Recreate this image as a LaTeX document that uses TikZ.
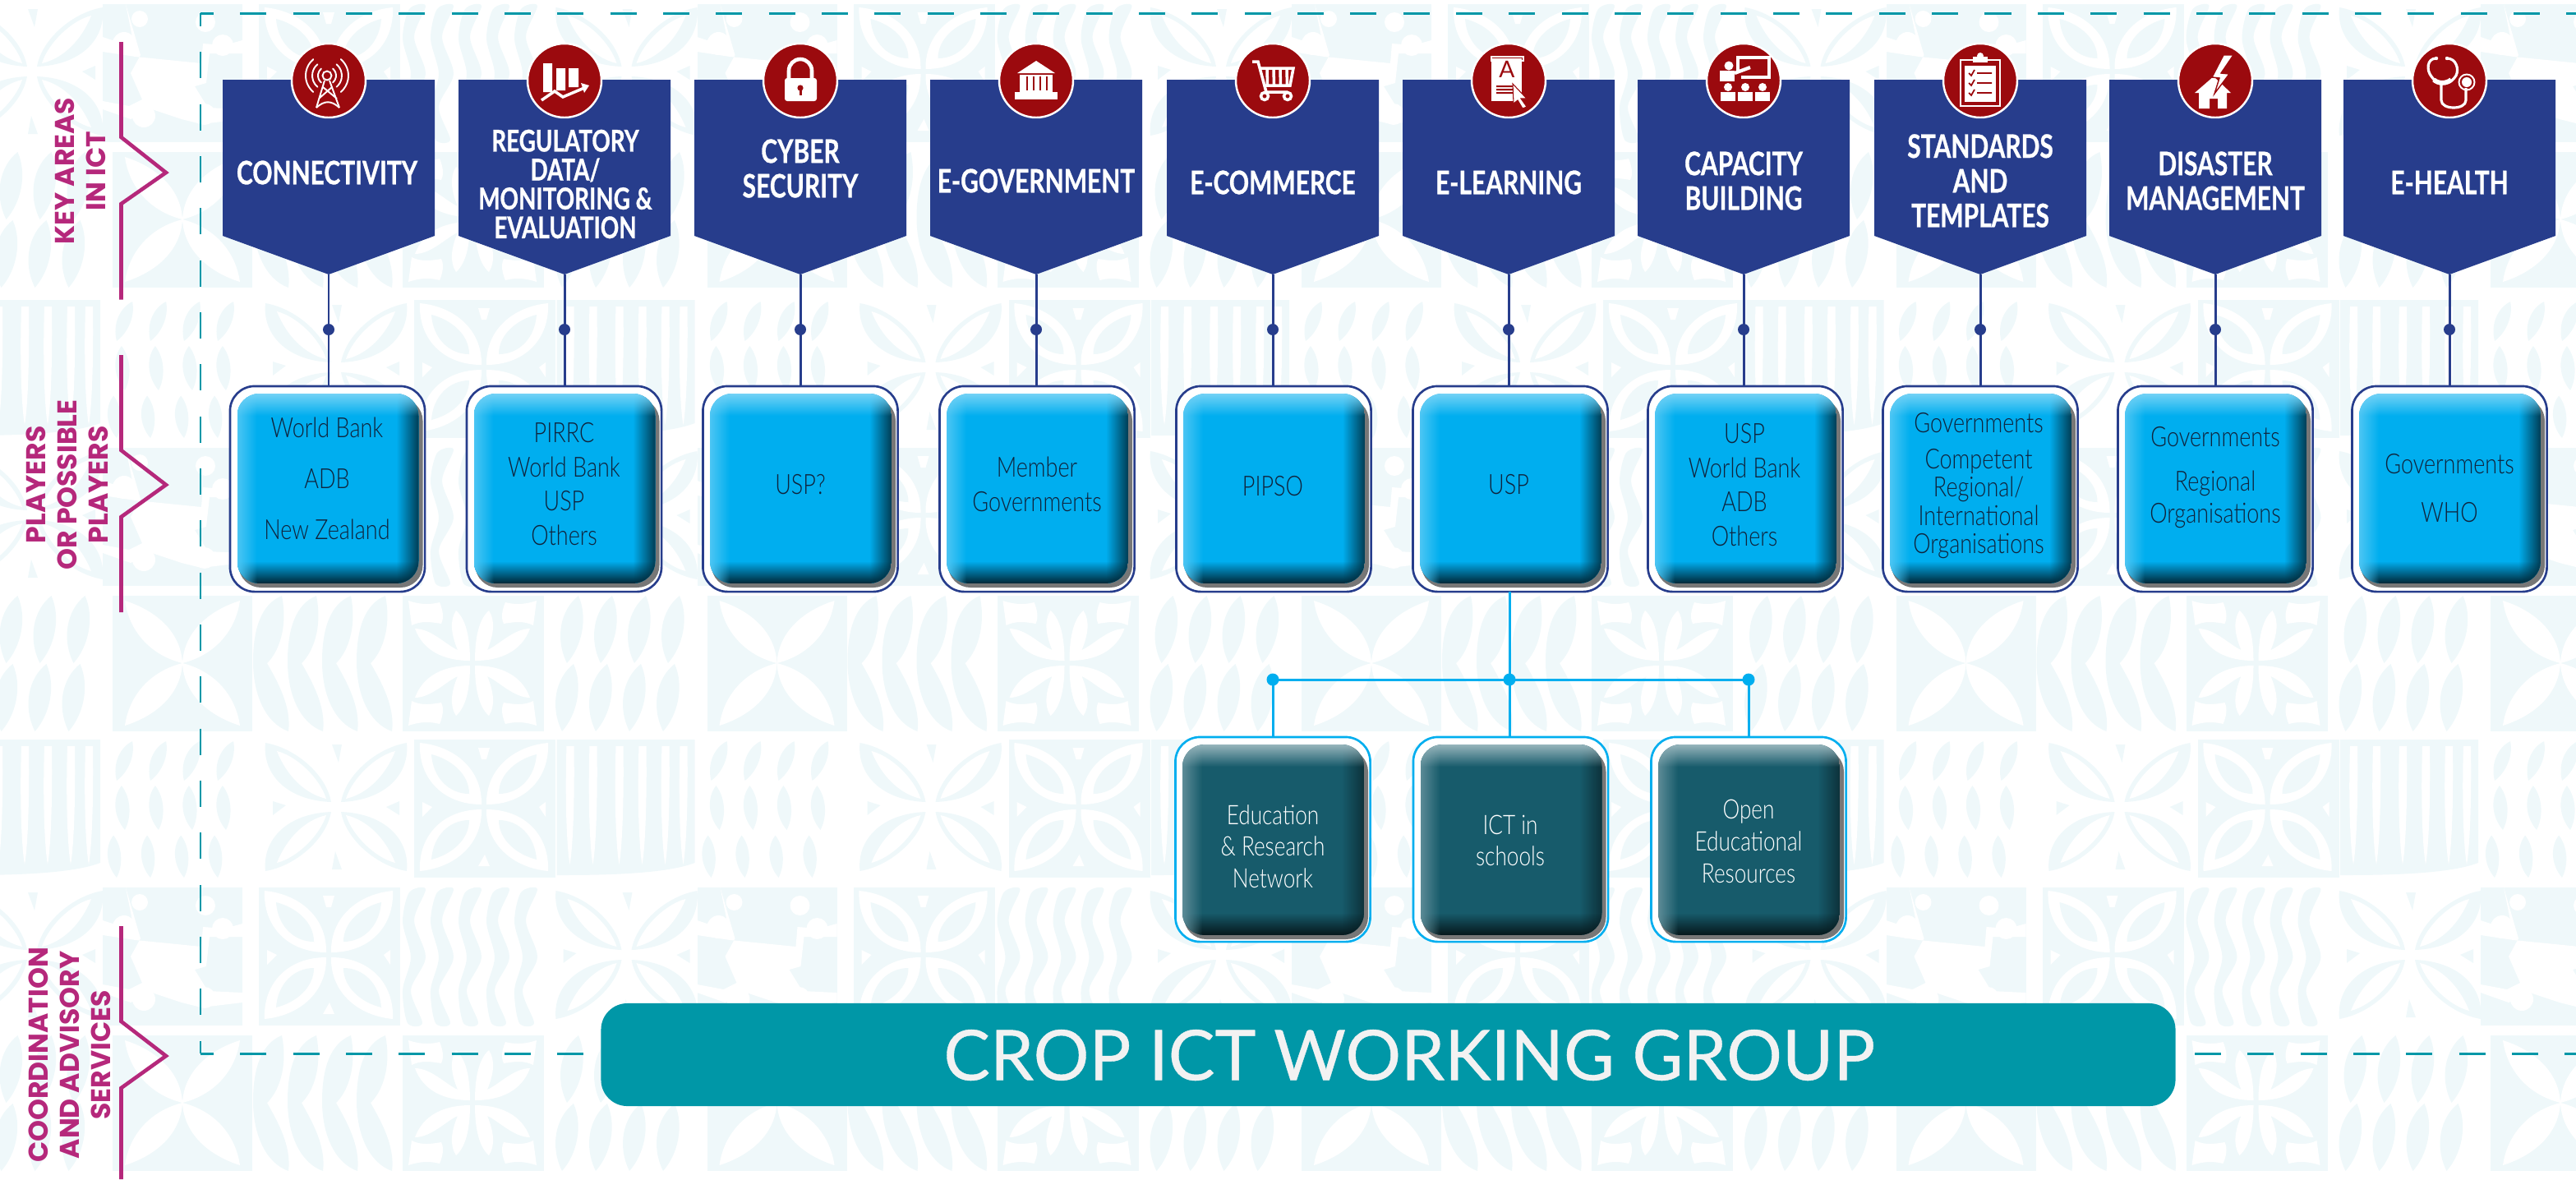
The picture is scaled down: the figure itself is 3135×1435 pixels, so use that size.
\documentclass[tikz,border=0pt]{standalone}
\usepackage{fontspec}
\usetikzlibrary{fadings}
\setmainfont{Lato}
\newfontfamily\hdrfont[FakeStretch=0.76,BoldFeatures={FakeBold=0.7}]{Lato}
\newfontfamily\bodyfont[FakeStretch=0.8]{Lato Light}
\newfontfamily\sidefont{Poppins}
\newfontfamily\barfont[FakeBold=0.5]{Lato}
\definecolor{navy}{HTML}{273D8C}
\definecolor{iconred}{HTML}{9B0A0E}
\definecolor{cyanfill}{HTML}{00AEEF}
\definecolor{tealfill}{HTML}{175B6B}
\definecolor{barteal}{HTML}{0097A7}
\definecolor{sidemag}{HTML}{B5287B}
\definecolor{darktext}{HTML}{10233C}
\definecolor{tilec}{HTML}{EFF8FA}
\definecolor{shadowgrey}{HTML}{777777}
\tikzset{
  hdrtext/.style={font=\hdrfont\bfseries\fontsize{11.2}{#1}\selectfont,text=white,align=center,inner sep=0pt},
  hdrsmall/.style={font=\hdrfont\bfseries\fontsize{10.4}{#1}\selectfont,text=white,align=center,inner sep=0pt},
  sidetext/.style={font=\sidefont\bfseries\fontsize{9.4}{10.8}\selectfont,text=sidemag,align=center,rotate=90,inner sep=0pt},
  boxtext/.style={font=\bodyfont\fontsize{9.6}{#1}\selectfont,text=darktext,align=center,inner sep=0pt},
  tealtext/.style={font=\bodyfont\fontsize{9.3}{11}\selectfont,text=white,align=center,inner sep=0pt},
  outerblue/.style={draw=navy,line width=0.75pt,fill=white,rounded corners=0.3cm,minimum width=2.37cm,minimum height=2.5cm,inner sep=0pt},
  outercyan/.style={draw=cyanfill,line width=0.75pt,fill=white,rounded corners=0.3cm,minimum width=2.37cm,minimum height=2.49cm,inner sep=0pt},
  navyline/.style={draw=navy,line width=0.85pt},
  cyanline/.style={draw=cyanfill,line width=0.85pt},
  navydot/.style={circle,fill=navy,minimum size=0.14cm,inner sep=0pt},
  cyandot/.style={circle,fill=cyanfill,minimum size=0.15cm,inner sep=0pt},
  sidebar/.style={draw=sidemag,line width=1.3pt,miter limit=10},
  hdash/.style={draw=barteal,line width=0.85pt,dash pattern=on 0.32cm off 0.323cm},
  vdash/.style={draw=barteal,line width=0.85pt,dash pattern=on 0.32cm off 0.313cm},
  ic/.style={draw=white,line width=0.55pt,fill=none},
  icf/.style={fill=white,draw=none},
  icr/.style={fill=iconred,draw=none},
}
% ---------- background tiles (local 170 x 165 px)
\newcommand{\mirrored}[1]{\foreach \sx/\sy in {1/1,-1/1,1/-1,-1/-1}{\begin{scope}[shift={(85,82)},xscale=\sx,yscale=\sy]#1\end{scope}}}
\newcommand{\tilePetal}[2]{\begin{scope}[shift={(#1,#2)}]\fill[tilec] (0,0) rectangle (170,165);
 \mirrored{\fill[white] (0,0) .. controls (-2,-40) and (-35,-65) .. (-70,-76) .. controls (-65,-40) and (-40,-10) .. (0,0);}\end{scope}}
\newcommand{\tileCres}[2]{\begin{scope}[shift={(#1,#2)}]\foreach \k in {0,1,2,3}{\begin{scope}[shift={(5+42*\k,0)}]
 \fill[tilec] (30,0) .. controls (38,40) and (25,70) .. (12,82) .. controls (25,105) and (42,135) .. (38,165) .. controls (10,155) and (-5,120) .. (-5,80) .. controls (-5,40) and (5,10) .. (30,0) -- cycle;\end{scope}}\end{scope}}
\newcommand{\tilePlant}[2]{\begin{scope}[shift={(#1,#2)}]\fill[tilec] (0,0) rectangle (172,165);
 \mirrored{\fill[white] (-3,-3) .. controls (-35,-3) and (-60,-15) .. (-70,-42) .. controls (-50,-42) and (-32,-22) .. (-18,-16) .. controls (-26,-35) and (-28,-52) .. (-20,-64) .. controls (-6,-52) and (-3,-25) .. (-3,-3);
  \fill[white] (-78,-76) .. controls (-60,-70) and (-48,-72) .. (-40,-74) .. controls (-34,-60) and (-36,-52) .. (-38,-48) .. controls (-50,-50) and (-62,-52) .. (-74,-46) -- cycle;}\end{scope}}
\newcommand{\fernleaf}{(0,0) .. controls (-15,-30) and (-8,-65) .. (14,-82) .. controls (26,-55) and (18,-20) .. (0,0)}
\newcommand{\tileFern}[2]{\begin{scope}[shift={(#1,#2)}]\foreach \k in {0,1,2,3}{
 \fill[tilec,shift={(12+41*\k,82)}] \fernleaf;
 \fill[tilec,shift={(6+41*\k,165)}] \fernleaf;}\end{scope}}
\newcommand{\tileStripes}[2]{\begin{scope}[shift={(#1,#2)}]\fill[tilec] (0,0) -- (168,0) -- (168,150) .. controls (130,165) and (40,165) .. (0,165) -- cycle;
 \foreach \x in {12,40,72,100,128,150}{\fill[white] (\x,8) -- (\x+9,8) .. controls (\x+10,70) and (\x+8,130) .. (\x+4,152) .. controls (\x,130) and (\x-2,70) .. (\x,8) -- cycle;}\end{scope}}
\newcommand{\tileHerring}[2]{\begin{scope}[shift={(#1,#2)}]\foreach \k in {0,1,2,3}{
 \fill[tilec,shift={(8+41*\k,50)},scale=0.62,rotate=-12] \fernleaf;
 \fill[tilec,shift={(18+41*\k,110)},scale=0.65,rotate=14] \fernleaf;
 \fill[tilec,shift={(8+41*\k,168)},scale=0.62,rotate=14] \fernleaf;}\end{scope}}
\newcommand{\tileLeafX}[2]{\begin{scope}[shift={(#1,#2)}]
 \mirrored{\fill[tilec] (-6,-6) .. controls (-12,-40) and (-50,-72) .. (-86,-78) .. controls (-90,-40) and (-60,-8) .. (-6,-6);
  \fill[white] (-12,-10) .. controls (-20,-35) and (-48,-62) .. (-72,-68) .. controls (-60,-38) and (-38,-16) .. (-12,-10);}
 \fill[tilec] (80,6) -- (92,6) -- (88,28) -- cycle;\fill[tilec] (80,158) -- (92,158) -- (84,136) -- cycle;
 \fill[tilec] (8,75) -- (24,80) -- (8,92) -- cycle;\fill[tilec] (162,75) -- (146,82) -- (162,92) -- cycle;\end{scope}}
\newcommand{\tileRing}[2]{\begin{scope}[shift={(#1,#2)}]\fill[tilec] (0,0) rectangle (172,168);
 \mirrored{\fill[white] (-3,-3) .. controls (-2,-45) and (-35,-74) .. (-78,-78) .. controls (-80,-35) and (-50,-3) .. (-3,-3);
  \fill[tilec] (-18,-16) .. controls (-18,-40) and (-40,-58) .. (-64,-64) .. controls (-62,-35) and (-42,-16) .. (-18,-16);}
 \fill[white] (78,10) -- (92,10) -- (88,24) -- (82,24) -- cycle;\fill[white] (78,154) -- (92,154) -- (86,140) -- cycle;
 \fill[white] (10,76) -- (22,82) -- (10,94) -- cycle;\fill[white] (160,76) -- (152,82) -- (160,94) -- cycle;\end{scope}}
\newcommand{\tilePuzzle}[2]{\begin{scope}[shift={(#1,#2)}]\fill[tilec] (0,0) rectangle (170,168);
 \fill[white] (28,0) -- (36,40) -- (12,44) -- (0,40) -- (0,58) -- (40,64) -- (120,72) -- (122,48) -- (148,50) -- (170,44) -- (170,60) -- (130,60) -- (126,96) -- (112,100) -- (128,126) -- (170,128) -- (170,140) -- (120,146) -- (96,140) -- (60,128) -- (34,140) -- (0,128) -- (0,118) -- (32,124) -- (48,116) -- (34,84) -- (46,62) -- cycle;
 \fill[white] (26,48) circle (14);\fill[white] (146,50) circle (13);\fill[white] (50,136) circle (14);\fill[white] (124,134) circle (13);
 \fill[white] (45,18) circle (10);\fill[white] (125,22) circle (12);\end{scope}}
\newcommand{\tileZig}[2]{\begin{scope}[shift={(#1,#2)}]\foreach \k in {0,1,2,3,4}{\begin{scope}[shift={(34*\k,0)}]
 \fill[tilec] plot[smooth cycle,tension=0.5] coordinates {(28,2) (14,40) (28,85) (10,125) (24,165) (6,165) (0,125) (10,85) (0,42) (8,6)};\end{scope}}\end{scope}}
\newcommand{\rowAtiles}[1]{\foreach \k in {-1,0,1,2,3,4}{\pgfmathsetmacro{\ox}{723.5*\k}
 \tilePetal{137+\ox}{#1}\tileCres{308+\ox}{#1}\tilePlant{490+\ox}{#1}\tileFern{678+\ox}{#1}}}
\newcommand{\rowBtiles}[1]{\foreach \k in {0,1,2,3,4}{\pgfmathsetmacro{\ox}{723.5*\k}
 \tileStripes{-46+\ox}{#1}\tileHerring{134+\ox}{#1}\tileLeafX{324+\ox}{#1}\tileRing{504+\ox}{#1}}}
\newcommand{\rowCtiles}[1]{\foreach \k in {0,1,2,3,4}{\pgfmathsetmacro{\ox}{723.5*\k}
 \tileLeafX{-46+\ox}{#1}\tilePuzzle{125+\ox}{#1}\tileRing{315+\ox}{#1}\tileZig{490+\ox}{#1}}}
% ---------- bevel: cx, top, bottom, base, toplight, leftlight, rightdark, bottomdark
\newcommand{\bevelbox}[8]{%
 \fill[shadowgrey,rounded corners=0.27cm] (#1-108,#2+6) rectangle (#1+116,#3+5);
 \begin{scope}
  \clip[rounded corners=0.27cm] (#1-110,#2) rectangle (#1+111,#3);
  \fill[#4] (#1-110,#2) rectangle (#1+111,#3);
  \fill[#7,path fading=west] (#1+84,#2) rectangle (#1+111,#3);
  \fill[#8,path fading=north] (#1-110,#3-27) rectangle (#1+111,#3);
  \fill[#6,path fading=east] (#1-110,#2) rectangle (#1-86,#3);
  \fill[#5,path fading=south] (#1-110,#2) rectangle (#1+111,#2+27);
 \end{scope}}
\newcommand{\hexshape}[1]{\fill[navy] (#1-129,97) -- (#1+129,97) -- (#1+129,287) -- (#1,334) -- (#1-129,287) -- cycle;}
\newcommand{\iconcircle}[1]{\fill[iconred,draw=white,line width=0.7pt] (#1,98) circle (45);}
\begin{document}
\begin{tikzpicture}[x=0.01cm,y=-0.01cm]
\useasboundingbox (0,0) rectangle (3135,1435);
\begin{scope}
 \clip (0,0) rectangle (3135,1435);
 \rowCtiles{5}\rowAtiles{185}\rowBtiles{365}\rowCtiles{545}\rowAtiles{725}\rowBtiles{900}\rowCtiles{1080}\rowAtiles{1260}
\end{scope}
% dashed frame
\coordinate (frameTL) at (244,16);
\coordinate (frameTR) at (3135,16);
\coordinate (frameBL) at (244,1282);
\coordinate (frameBR) at (3135,1282);
\coordinate (frameBS) at (2671,1282);
\draw[hdash,dash phase=0.16cm] (frameTL) -- (frameTR);
\draw[vdash,dash phase=0.16cm] (frameTL) -- (frameBL);
\draw[hdash,dash phase=0.16cm] (frameBL) -- (732,1282);
\draw[hdash] (frameBS) -- (frameBR);
% side brackets
\draw[sidebar] (147.5,51) -- (147.5,167) -- (202,210) -- (147.5,248) -- (147.5,364.5);
\draw[sidebar] (147.5,432) -- (147.5,548) -- (202,590) -- (147.5,629) -- (147.5,745);
\draw[sidebar] (147.5,1127) -- (147.5,1243) -- (202,1285) -- (147.5,1324) -- (147.5,1435);
\node[sidetext] (sideA) at (98,208) {KEY AREAS\\IN ICT};
\node[sidetext] (sideB) at (82,590) {PLAYERS\\OR POSSIBLE\\PLAYERS};
\node[sidetext] (sideC) at (85,1284) {COORDINATION\\AND ADVISORY\\SERVICES};
% headers
\foreach \cx in {400,687,974,1261,1549,1836,2122,2410,2696,2981}{\hexshape{\cx}}
\coordinate (t1) at (400,334);\coordinate (t2) at (687,334);\coordinate (t3) at (974,334);\coordinate (t4) at (1261,334);\coordinate (t5) at (1549,334);
\coordinate (t6) at (1836,334);\coordinate (t7) at (2122,334);\coordinate (t8) at (2410,334);\coordinate (t9) at (2696,334);\coordinate (t10) at (2981,334);
\node[hdrtext=12.0] (h1) at (398,210) {CONNECTIVITY};
\node[hdrsmall=10.0] (h2) at (688,224) {REGULATORY\\DATA/\\MONITORING \&\\EVALUATION};
\node[hdrtext=12.0] (h3) at (974,205) {CYBER\\SECURITY};
\node[hdrtext=12.0] (h4) at (1261,220) {E-GOVERNMENT};
\node[hdrtext=12.0] (h5) at (1549,222) {E-COMMERCE};
\node[hdrtext=12.0] (h6) at (1836,222) {E-LEARNING};
\node[hdrtext=12.0] (h7) at (2122,220) {CAPACITY\\BUILDING};
\node[hdrtext=12.0] (h8) at (2410,220) {STANDARDS\\AND\\TEMPLATES};
\node[hdrtext=12.0] (h9) at (2696,220) {DISASTER\\MANAGEMENT};
\node[hdrtext=12.0] (h10) at (2981,222) {E-HEALTH};
% player boxes
\foreach \n/\cx in {1/398.5,2/686.5,3/974,4/1262,5/1550,6/1838,7/2124,8/2410,9/2696,10/2981}{
 \node[outerblue] (p\n) at (\cx,595) {};
 \bevelbox{\cx}{479}{710}{cyanfill}{cyanfill!55!white}{cyanfill!70!white}{cyanfill!35!black}{cyanfill!22!black}
}
\node[boxtext=17.6] (pt1) at (398,582) {World Bank\\ADB\\New Zealand};
\node[boxtext=11.9] (pt2) at (686.5,589) {PIRRC\\World Bank\\USP\\Others};
\node[boxtext=12] (pt3) at (974,590) {USP?};
\node[boxtext=12] (pt4) at (1262,589) {Member\\Governments};
\node[boxtext=12] (pt5) at (1549,592) {PIPSO};
\node[boxtext=12] (pt6) at (1836,590) {USP};
\node[boxtext=11.9] (pt7) at (2123,590) {USP\\World Bank\\ADB\\Others};
\node[boxtext=9.7] (pt8) at (2408,591) {Governments\\[2.8pt]Competent\\Regional/\\International\\Organisations};
\node[boxtext=11] (pt9) at (2696,581) {Governments\\[4.5pt]Regional\\Organisations};
\node[boxtext=17] (pt10) at (2981,594) {Governments\\WHO};
% connectors header -> player
\foreach \n/\dy in {1/401,2/401,3/401,4/401,5/401,6/401,7/401,8/401,9/401,10/401}{
 \draw[navyline] (t\n) -- (t\n |- p\n.north);
 \node[navydot] (nd\n) at (t\n |- 0,\dy) {};
}
% sub boxes
\foreach \n/\cx in {1/1549,2/1838.5,3/2128}{
 \node[outercyan] (s\n) at (\cx,1021.5) {};
 \bevelbox{\cx}{906}{1138}{tealfill}{tealfill!45!white}{tealfill!70!white}{tealfill!55!black}{tealfill!25!black}
}
\node[tealtext] (st1) at (1549,1030) {Education\\\& Research\\Network};
\node[tealtext] (st2) at (1838,1023) {ICT in\\schools};
\node[tealtext] (st3) at (2128,1024) {Open\\Educational\\Resources};
\coordinate (usp) at (1837,720);
\coordinate (junc) at (1837,827);
\draw[cyanline] (usp) -- (s2.north -| usp);
\draw[cyanline] (s1.north |- junc) -- (s3.north |- junc);
\draw[cyanline] (s1.north |- junc) -- (s1.north);
\draw[cyanline] (s3.north |- junc) -- (s3.north);
\node[cyandot] (cd1) at (s1.north |- junc) {};
\node[cyandot] (cd2) at (junc) {};
\node[cyandot] (cd3) at (s3.north |- junc) {};
% bar
\node[fill=barteal,rounded corners=0.32cm,minimum width=19.15cm,minimum height=1.25cm,inner sep=0pt] (bar) at (1689.5,1283.5) {};
\node[inner sep=0pt,text=white!95!black,font=\barfont\fontsize{24.1}{26}\selectfont] (barText) at (1715,1284) {CROP ICT WORKING GROUP};
% icons
\foreach \cx in {400,687,974,1261,1549,1836,2122,2410,2696,2981}{\iconcircle{\cx}}
\begin{scope}[shift={(400,98)}]
 \draw[ic] (-2,-6) circle (5.5);
 \foreach \r in {11,18,26}{
  \draw[ic,line cap=round] (-2,-6) ++(130:\r) arc[start angle=130,end angle=230,radius=\r];
  \draw[ic,line cap=round] (-2,-6) ++(-50:\r) arc[start angle=-50,end angle=50,radius=\r];}
 \draw[ic,line join=round] (-5,0) -- (-15,33) (1,0) -- (13,33) (-7,8) -- (10,22) (4,8) -- (-12,22);
 \draw[ic] (-15,33) .. controls (-5,24) and (3,24) .. (13,33);
\end{scope}
\begin{scope}[shift={(687,98)}]
 \fill[icf] (-26,-21) rectangle (-15,14) (-10,-15) rectangle (1,12) (5,-15) rectangle (17,8);
 \draw[ic,line width=1pt] (-28,24) -- (-12,13) -- (-2,20) -- (24,9);
 \fill[icf] (30,6) -- (20,3) -- (24,15) -- cycle;
\end{scope}
\begin{scope}[shift={(974,98)}]
 \draw[ic,line width=1.3pt] (-14,-3) -- (-14,-12) arc[start angle=180,end angle=360,radius=14] -- (14,-3);
 \fill[icf,rounded corners=0.03cm] (-19,-3) rectangle (20,25);
 \fill[icr] (0,9) circle (3.6);\fill[icr] (-1.5,9) rectangle (1.5,18);
\end{scope}
\begin{scope}[shift={(1261,98)}]
 \fill[icf] (0,-24) -- (23,-9) -- (-23,-9) -- cycle;
 \fill[icf] (-20,-7) rectangle (20,14);
 \foreach \x in {-11,-3,5,13}{\fill[icr] (\x-1,-5) rectangle (\x+1,12);}
 \fill[icf] (-26,14) rectangle (26,23);
\end{scope}
\begin{scope}[shift={(1549,98)}]
 \draw[ic,line width=1pt] (-25,-23) -- (-18,-23) -- (-8,14) -- (18,14);
 \draw[ic,line width=1pt] (-15,-15) -- (25,-15) -- (21,6) -- (-9,6);
 \foreach \x in {-7,1,9,17}{\draw[ic,line width=1pt] (\x,-13) -- (\x+0.5,5);}
 \draw[ic,line width=1pt] (-10,19) circle (4.5) (18,19) circle (4.5);
\end{scope}
\begin{scope}[shift={(1836,98)}]
 \draw[ic] (-21,-29) rectangle (18,-24);
 \fill[icf] (-21,-27) rectangle (16,25);
 \node[font=\fontsize{8}{8}\selectfont,text=iconred,inner sep=0pt] (bookA) at (-2,-14) {A};
 \fill[icr] (-15,6) rectangle (8,8) (-15,10) rectangle (6,12) (-15,14) rectangle (6,16);
 \fill[icf,draw=iconred,line width=0.3pt] (5,4) -- (22,22) -- (15,22) -- (22,32) -- (17,34) -- (11,24) -- (6,28) -- cycle;
\end{scope}
\begin{scope}[shift={(2122,98)}]
 \draw[ic,line width=0.9pt] (-7,-28) rectangle (31,-4);
 \fill[icr] (-12,-10) rectangle (-3,0);
 \draw[ic,line width=0.9pt] (-7,-28) -- (-7,-15);
 \fill[icf] (-18,-18) circle (5.5);
 \fill[icf] (-29,-12) rectangle (-11,1);
 \draw[ic,line width=1.2pt] (-11,-9) -- (8,-16);
 \foreach \x in {-19,2,23}{\fill[icf] (\x,8) circle (5);\fill[icf] (\x-9,14) rectangle (\x+9,25);}
\end{scope}
\begin{scope}[shift={(2410,98)}]
 \draw[ic] (-24,-25) rectangle (24,31);
 \fill[icf] (-19,-18) rectangle (19,26);
 \fill[icf] (0,-30) circle (4);\fill[icf] (-9,-29) rectangle (9,-22);
 \foreach \y in {-9,3,15}{\draw[draw=iconred,line width=0.5pt] (-14,\y) -- (-11,\y+3) -- (-7,\y-4) (-4,\y) -- (14,\y);}
\end{scope}
\begin{scope}[shift={(2696,98)}]
 \fill[icf] (-2,-5) -- (19,15) -- (14,15) -- (14,34) -- (3,34) -- (3,22) -- (-7,22) -- (-7,34) -- (-20,34) -- (-20,15) -- (-25,15) -- cycle;
 \fill[icf,draw=iconred,line width=0.4pt] (22,-31) -- (7,-9) -- (17,-8) -- (-1,16) -- (5,-3) -- (-4,-4) -- (10,-31) -- cycle;
\end{scope}
\begin{scope}[shift={(2981,98)}]
 \draw[ic,line width=0.9pt] (-16,-27) .. controls (-28,-27) and (-28,-12) .. (-22,-5) .. controls (-16,3) and (-13,4) .. (-9,4) .. controls (-4,4) and (2,3) .. (8,-6) .. controls (12,-14) and (8,-27) .. (-3,-27);
 \draw[ic,line width=1.6pt] (-19,-1) .. controls (-14,4) and (-4,4) .. (2,-1);
 \draw[ic,line width=0.9pt] (-10,4) -- (-10,24) .. controls (-10,36) and (20,36) .. (20,24) -- (20,9);
 \draw[ic] (21,2) circle (9.5);
 \fill[icf] (21,2) circle (6);
 \fill[icf] (-16,-27) circle (2.2) (-3,-27) circle (2.2);
\end{scope}
\end{tikzpicture}
\end{document}
